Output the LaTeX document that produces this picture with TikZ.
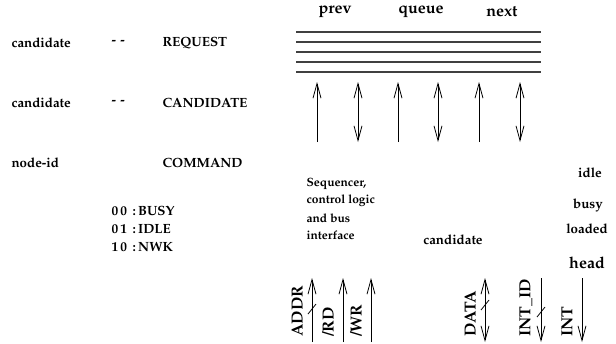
\documentclass[tikz,border=0pt]{standalone}
\usepackage[T1]{fontenc}
\usepackage{mathpazo}
\usetikzlibrary{arrows.meta}
\tikzset{
    x=0.75pt,
    y=-0.75pt,
    >={Straight Barb[length=11pt,width=6pt]},
    every node/.style={font=\bfseries, inner sep=1pt},
    lbl/.style={anchor=west},
    big/.style={font=\bfseries\large},
    small/.style={font=\bfseries\small, anchor=west},
    sig/.style={anchor=west, rotate=90, inner sep=0pt, font=\bfseries\large},
    wire/.style={line width=0.6pt},
    bus/.style={line width=0.8pt, black!75},
    tick/.style={line width=0.6pt},
}

\begin{document}
\begin{tikzpicture}
    \useasboundingbox (0,0) rectangle (616,343);

    % bus header
    \node[big] (prev) at (335,12) {prev};
    \node[big] (queue) at (421,12) {queue};
    \node[big] (next) at (502,12) {next};

    \foreach \y [count=\i] in {32,42,52,62,72} {
        \coordinate (busL\i) at (296,\y);
        \coordinate (busR\i) at (541,\y);
        \draw[bus] (busL\i) -- (busR\i);
    }

    % connections to the bus
    \foreach \x/\tip [count=\i] in {317/->, 358/<->, 398/->, 438/<->, 479/->, 520/<->} {
        \coordinate (up\i) at (\x,82);
        \coordinate (dn\i) at (\x,142);
        \draw[wire, \tip] (dn\i) -- (up\i);
    }

    % packet fields
    \node[lbl] (cand1) at (10,43) {candidate};
    \node[lbl] (sep1) at (110,43) {{-}\,\,{-}};
    \node[lbl] (req) at (161,43) {REQUEST};
    \node[lbl] (cand2) at (10,103) {candidate};
    \node[lbl] (sep2) at (110,103) {{-}\,\,{-}};
    \node[lbl] (candcmd) at (161,103) {CANDIDATE};
    \node[lbl] (nodeid) at (10,163) {node-id};
    \node[lbl] (cmd) at (161,163) {COMMAND};

    \foreach \code/\name/\y [count=\i] in {0\,0/BUSY/211, 0\,1/IDLE/229, 1\,0/NWK/247} {
        \node[lbl] (code\i) at (110,\y) {\code};
        \node[lbl] (name\i) at (131,\y) {:\,\name};
    }

    % node internals
    \node[small] (seq1) at (305,184) {Sequencer,};
    \node[small] (seq2) at (305,201) {control logic};
    \node[small] (seq3) at (305,218) {and bus};
    \node[small] (seq4) at (305,235) {interface};

    \node (cand) at (453,240) {candidate};
    \node (idle) at (590,173) {idle};
    \node (busy) at (588,205) {busy};
    \node (loaded) at (587,229) {loaded};
    \node[big] (head) at (587,263) {head};

    % host side signals
    \foreach \x/\tip/\name/\txt [count=\i] in {
        312/->/addr/ADDR, 343/->/rd/{/RD}, 371/->/wr/{/WR},
        485/<->/data/DATA, 541/<-/intid/INT\_ID, 582/<-/int/INT} {
        \coordinate (\name T) at (\x,278);
        \coordinate (\name B) at (\x,342);
        \draw[wire, \tip] (\name B) -- (\name T);
        \node[sig] (\name L) at (\x-15,337) {\txt};
    }

    % multi-bit marks
    \draw[tick] (addrT) ++(-4,36) -- ++(8,-10);
    \draw[tick] (dataT) ++(-4,32) -- ++(8,-10);
    \draw[tick] (intidT) ++(-4,39) -- ++(8,-10);
\end{tikzpicture}
\end{document}
